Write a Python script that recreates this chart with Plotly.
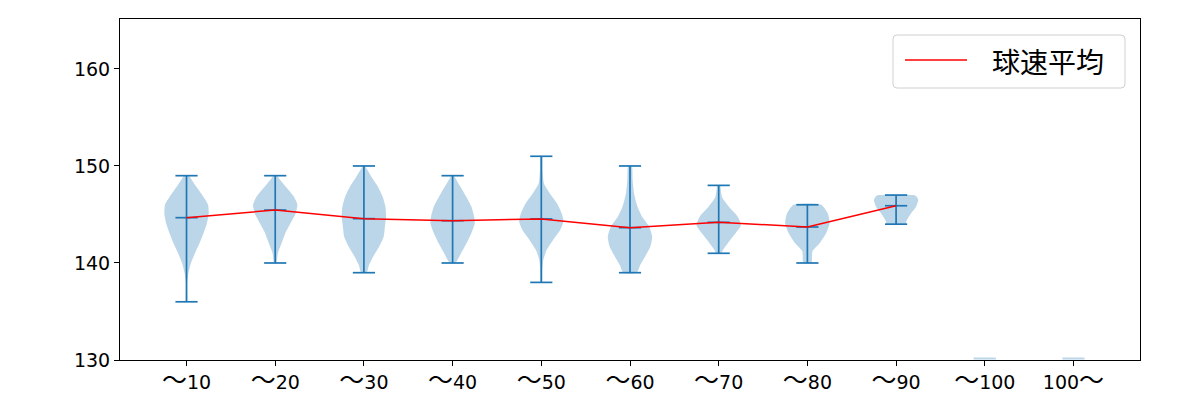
import plotly.graph_objects as go

# ---------------- data ----------------
categories = ["～10", "～20", "～30", "～40", "～50", "～60", "～70", "～80", "～90", "～100", "100～"]
positions = [1, 2, 3, 4, 5, 6, 7, 8, 9, 10, 11]

speed_min = [136, 140, 139, 140, 138, 139, 141, 140, 144]
speed_max = [149, 149, 150, 149, 151, 150, 148, 146, 147]
speed_mean = [144.67, 145.46, 144.57, 144.36, 144.54, 143.64, 144.19, 143.71, 145.9]

# density profile of each violin (speed level, relative half-width 0..1)
profile_speeds = [
    [136.0, 137.9, 138.9, 140.0, 141.0, 142.0, 143.1, 144.1, 145.1, 146.0, 146.8, 147.9, 148.9, 149.0],
    [140.0, 141.0, 142.0, 143.1, 144.1, 145.1, 146.0, 146.8, 147.9, 148.9, 149.0],
    [139.0, 139.8, 140.7, 141.7, 142.7, 143.8, 144.8, 145.8, 146.8, 147.9, 148.9, 149.9, 150.0],
    [140.0, 141.0, 142.0, 143.1, 144.1, 144.8, 145.8, 146.8, 147.9, 148.9, 149.0],
    [138.0, 139.3, 140.3, 141.3, 142.4, 143.4, 144.3, 145.1, 146.2, 147.2, 148.2, 149.6, 151.0],
    [139.0, 139.8, 140.7, 141.7, 142.7, 143.8, 144.8, 145.8, 147.2, 148.6, 150.0],
    [141.0, 141.3, 142.2, 143.1, 143.9, 144.8, 145.8, 146.8, 147.9, 148.0],
    [140.0, 141.2, 142.0, 143.1, 144.1, 145.1, 146.0],
    [144.0, 144.4, 145.1, 145.8, 146.5, 146.9, 147.0],
]
profile_widths = [
    [0.02, 0.03, 0.08, 0.2, 0.38, 0.58, 0.77, 0.92, 1.0, 0.97, 0.77, 0.43, 0.15, 0.12],
    [0.05, 0.12, 0.28, 0.46, 0.69, 0.92, 1.0, 0.85, 0.46, 0.12, 0.1],
    [0.12, 0.23, 0.43, 0.69, 0.89, 0.95, 1.0, 0.97, 0.85, 0.62, 0.34, 0.08, 0.05],
    [0.12, 0.38, 0.62, 0.85, 1.0, 0.97, 0.85, 0.62, 0.34, 0.09, 0.06],
    [0.03, 0.05, 0.09, 0.23, 0.54, 0.85, 1.0, 0.92, 0.69, 0.38, 0.12, 0.06, 0.04],
    [0.3, 0.46, 0.69, 0.92, 1.0, 0.85, 0.54, 0.34, 0.18, 0.12, 0.08],
    [0.12, 0.18, 0.46, 0.77, 1.0, 0.85, 0.46, 0.15, 0.08, 0.08],
    [0.18, 0.23, 0.54, 0.85, 1.0, 0.92, 0.62],
    [0.42, 0.48, 0.67, 0.9, 1.0, 0.9, 0.8],
]
empty_positions = [10, 11]
y_ticks = [130, 140, 150, 160]
legend_label = "球速平均"

# ---------------- style ----------------
BLUE = "#1f77b4"
FILL = "rgba(31,119,180,0.3)"
HALF = 0.25   # max half-width of violin
CAP = 0.125   # half-width of caps
CJK = "Noto Sans CJK JP"
NUM = "DejaVu Sans, Noto Sans CJK JP"


def fmt_label(s):
    # enlarge the full-width tilde like the reference font does
    return s.replace("～", '<span style="font-size:25px;font-family:Noto Sans CJK JP">～</span>')


fig = go.Figure()

# violin bodies
for i, (sp, wd) in enumerate(zip(profile_speeds, profile_widths)):
    p = positions[i]
    xs = [p + HALF * w for w in wd] + [p - HALF * w for w in reversed(wd)]
    ys = list(sp) + list(reversed(sp))
    xs.append(xs[0]); ys.append(ys[0])
    fig.add_trace(go.Scatter(x=xs, y=ys, mode="lines", fill="toself", fillcolor=FILL,
                             line=dict(width=0, color=FILL, shape="spline", smoothing=0.6),
                             hoverinfo="skip", showlegend=False))

# empty categories: faint flat marks at the bottom
ex, ey = [], []
for p in empty_positions:
    ex += [p - CAP, p + CAP, None]
    ey += [130.15, 130.15, None]
fig.add_trace(go.Scatter(x=ex, y=ey, mode="lines", line=dict(color=FILL, width=2),
                         hoverinfo="skip", showlegend=False))

# vertical bars, caps, mean marks
lx, ly = [], []
for i in range(len(speed_min)):
    p = positions[i]
    lx += [p, p, None]
    ly += [speed_min[i], speed_max[i], None]
    for v in (speed_min[i], speed_max[i], speed_mean[i]):
        lx += [p - CAP, p + CAP, None]
        ly += [v, v, None]
fig.add_trace(go.Scatter(x=lx, y=ly, mode="lines", line=dict(color=BLUE, width=1.7),
                         hoverinfo="skip", showlegend=False))

# mean line
fig.add_trace(go.Scatter(x=positions[:len(speed_mean)], y=speed_mean, mode="lines",
                         line=dict(color="red", width=1.5), name=legend_label, showlegend=False))

# legend (drawn manually to match box styling)
PW, PH = 1020.0, 341.0
def px_x(v):
    return (v - 120) / PW
def px_y(v):
    return (360 - v) / PH
x0, x1, y0, y1 = px_x(893), px_x(1125), px_y(88), px_y(35)
rx, ry = 4 / PW, 4 / PH
path = (f"M{x0+rx},{y0} L{x1-rx},{y0} Q{x1},{y0} {x1},{y0+ry} L{x1},{y1-ry} Q{x1},{y1} {x1-rx},{y1} "
        f"L{x0+rx},{y1} Q{x0},{y1} {x0},{y1-ry} L{x0},{y0+ry} Q{x0},{y0} {x0+rx},{y0} Z")
fig.add_shape(type="path", path=path, xref="paper", yref="paper",
              line=dict(color="#d0d0d0", width=1), fillcolor="rgba(255,255,255,0.8)")
fig.add_shape(type="line", xref="paper", yref="paper", x0=px_x(905), x1=px_x(967),
              y0=px_y(60), y1=px_y(60), line=dict(color="red", width=1.5))
fig.add_annotation(xref="paper", yref="paper", x=px_x(990), y=px_y(61), text=legend_label,
                   showarrow=False, xanchor="left", yanchor="middle",
                   font=dict(family=CJK, size=28, color="black"))

fig.update_layout(
    width=1200, height=400,
    margin=dict(l=120, r=60, t=19, b=40, pad=0),
    plot_bgcolor="white", paper_bgcolor="white",
    font=dict(family=NUM, size=19, color="black"),
    showlegend=False,
)
fig.update_xaxes(range=[0.25, 11.75], tickvals=positions,
                 ticktext=[fmt_label(c) for c in categories], automargin=False,
                 showgrid=False, zeroline=False, showline=True, mirror=True,
                 linecolor="black", linewidth=1, ticks="outside", ticklen=5,
                 tickcolor="black", tickfont=dict(family=NUM, size=19))
fig.update_yaxes(range=[130, 165.15], tickvals=y_ticks, automargin=False,
                 showgrid=False, zeroline=False, showline=True, mirror=True,
                 linecolor="black", linewidth=1, ticks="outside", ticklen=5,
                 tickcolor="black", tickfont=dict(family=NUM, size=19))

fig.write_html("out.html")
